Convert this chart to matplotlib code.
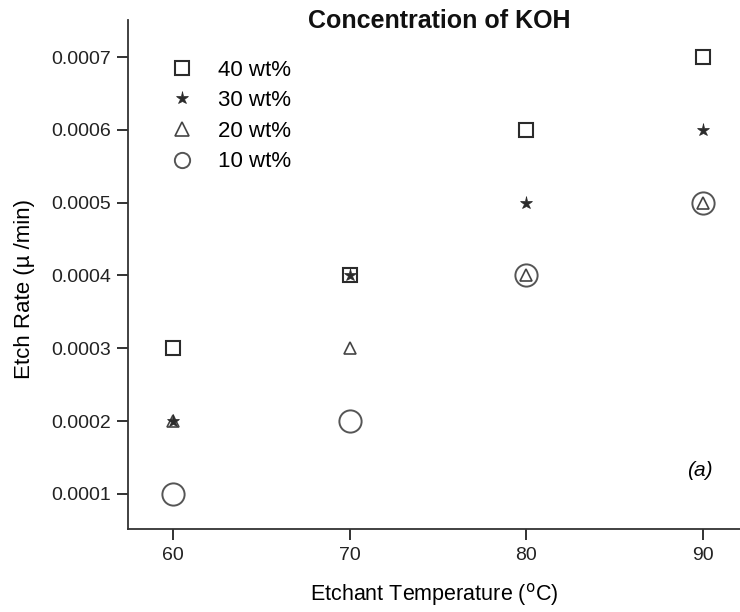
import matplotlib
matplotlib.use('Agg')
import matplotlib.pyplot as plt
from matplotlib.lines import Line2D

plt.rcParams['font.family'] = ['Liberation Sans', 'DejaVu Sans']

# temperatures (°C) and etch rates (µ/min) per KOH concentration
temp = [60, 70, 80, 90]
koh40 = [0.0003, 0.0004, 0.0006, 0.0007]
koh30 = [0.0002, 0.0004, 0.0005, 0.0006]
koh20 = [0.0002, 0.0003, 0.0004, 0.0005]
koh10 = [0.0001, 0.0002, 0.0004, 0.0005]
labels = ['40 wt%', '30 wt%', '20 wt%', '10 wt%']
yticks = [0.0001, 0.0002, 0.0003, 0.0004, 0.0005, 0.0006, 0.0007]

col = '#2b2b2b'
fig = plt.figure(figsize=(7.4, 6.12), dpi=100)
ax = fig.add_axes([0.173, 0.1356, 0.827, 0.8317])

ax.plot(temp, koh10, 'o', ms=16, mfc='none', mec='#555555', mew=1.4, ls='none')
ax.plot(temp, koh40, 's', ms=10, mfc='none', mec=col, mew=1.5, ls='none')
ax.plot(temp, koh20, '^', ms=9, mfc='none', mec='#444444', mew=1.2, ls='none')
ax.plot(temp, koh30, '*', ms=9.5, mfc=col, mec=col, mew=0.5, ls='none')

handles = [
    Line2D([], [], marker='s', ms=10, mfc='none', mec=col, mew=1.5, ls='none'),
    Line2D([], [], marker='*', ms=9.5, mfc=col, mec=col, mew=0.5, ls='none'),
    Line2D([], [], marker='^', ms=10, mfc='none', mec='#444444', mew=1.2, ls='none'),
    Line2D([], [], marker='o', ms=11, mfc='none', mec='#555555', mew=1.4, ls='none'),
]
ax.legend(handles, labels, loc='upper left', bbox_to_anchor=(0.052, 0.944), frameon=False,
          fontsize=16, handlelength=1.0, handletextpad=1.1, labelspacing=0.43, borderpad=0)

ax.set_xlim(57.45, 92.1)
ax.set_ylim(0.0000519, 0.0007508)
ax.set_xticks(temp)
ax.set_yticks(yticks)
ax.set_yticklabels([f'{v:.4f}' for v in yticks])
ax.tick_params(direction='out', length=8, width=1.3, labelsize=14, colors='#222222')
ax.tick_params(axis='x', pad=5)
ax.tick_params(axis='y', pad=4)
for s in ['top', 'right']:
    ax.spines[s].set_visible(False)
for s in ['left', 'bottom']:
    ax.spines[s].set_linewidth(1.3)
    ax.spines[s].set_color('#333333')

ax.set_xlabel('Etchant Temperature ($^{\\mathrm{o}}$C)', fontsize=15.5, labelpad=12)
ax.set_ylabel('Etch Rate (µ /min)', fontsize=16)
ax.yaxis.set_label_coords(-0.152, 0.472)
fig.text(0.593, 0.966, 'Concentration of KOH', ha='center', va='center',
         fontsize=18, fontweight='bold', color='#111111')
ax.text(0.955, 0.105, '(a)', transform=ax.transAxes, ha='right', fontsize=15, style='italic')

plt.savefig('out.png', dpi=100)
